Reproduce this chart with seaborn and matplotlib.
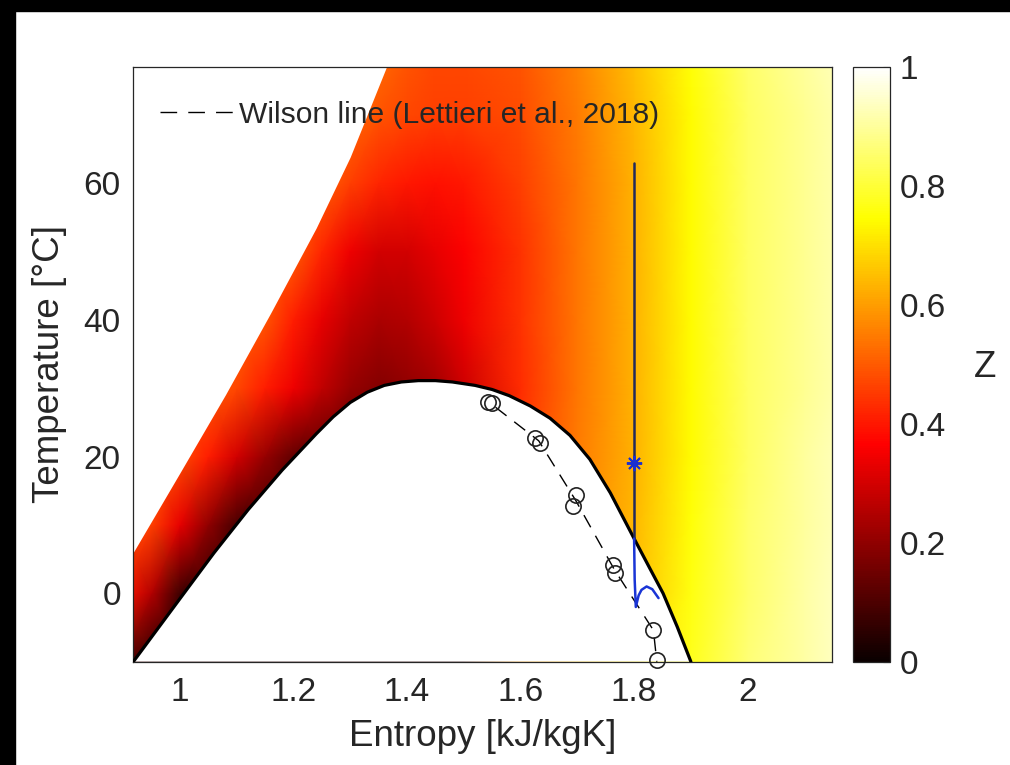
import numpy as np
import matplotlib
matplotlib.use("Agg")
import matplotlib.pyplot as plt
import seaborn as sns
from matplotlib.patches import Rectangle
from matplotlib.lines import Line2D

# Compressibility factor Z on a coarse (s, T) grid
s_grid = [0.90, 0.95, 1.00, 1.05, 1.10, 1.15, 1.20, 1.25, 1.30, 1.35,
          1.40, 1.45, 1.50, 1.60, 1.70, 1.80, 1.90, 2.00, 2.10, 2.16]
T_grid = [-10, 0, 10, 20, 30, 40, 50, 60, 70, 78]
z_rows = [
    [0.12, 0.05, 0.05, 0.05, 0.05, 0.05, 0.05, 0.05, 0.05, 0.05, 0.05, 0.05, 0.05, 0.60, 0.66, 0.71, 0.77, 0.86, 0.91, 0.94],
    [0.40, 0.25, 0.08, 0.06, 0.06, 0.06, 0.06, 0.06, 0.06, 0.06, 0.06, 0.06, 0.06, 0.46, 0.56, 0.65, 0.76, 0.85, 0.91, 0.94],
    [0.49, 0.46, 0.33, 0.20, 0.09, 0.08, 0.08, 0.08, 0.08, 0.08, 0.08, 0.08, 0.08, 0.46, 0.56, 0.64, 0.75, 0.85, 0.90, 0.93],
    [0.50, 0.50, 0.48, 0.41, 0.30, 0.21, 0.13, 0.12, 0.12, 0.12, 0.12, 0.12, 0.12, 0.45, 0.55, 0.63, 0.74, 0.84, 0.90, 0.93],
    [0.50, 0.50, 0.50, 0.50, 0.47, 0.41, 0.34, 0.27, 0.21, 0.18, 0.20, 0.23, 0.29, 0.43, 0.54, 0.63, 0.74, 0.84, 0.89, 0.92],
    [0.50, 0.50, 0.50, 0.50, 0.50, 0.49, 0.41, 0.33, 0.27, 0.24, 0.25, 0.29, 0.34, 0.44, 0.54, 0.63, 0.74, 0.84, 0.89, 0.92],
    [0.51, 0.51, 0.51, 0.51, 0.51, 0.51, 0.50, 0.42, 0.34, 0.30, 0.30, 0.33, 0.36, 0.44, 0.54, 0.63, 0.74, 0.84, 0.89, 0.92],
    [0.52, 0.52, 0.52, 0.52, 0.52, 0.52, 0.52, 0.51, 0.46, 0.42, 0.40, 0.39, 0.40, 0.46, 0.54, 0.63, 0.74, 0.84, 0.89, 0.92],
    [0.53, 0.53, 0.53, 0.53, 0.53, 0.53, 0.53, 0.53, 0.52, 0.49, 0.47, 0.46, 0.46, 0.48, 0.55, 0.64, 0.74, 0.84, 0.89, 0.92],
    [0.54, 0.54, 0.54, 0.54, 0.54, 0.54, 0.54, 0.54, 0.54, 0.52, 0.49, 0.47, 0.47, 0.49, 0.56, 0.65, 0.75, 0.85, 0.90, 0.93],
]

# saturation dome (liquid side -> critical point -> vapour side)
dome_s = [0.918, 1.000, 1.060, 1.120, 1.180, 1.240, 1.270, 1.300, 1.330,
          1.360, 1.390, 1.420, 1.450, 1.480, 1.520, 1.550, 1.580, 1.617,
          1.652, 1.687, 1.722, 1.758, 1.800, 1.828, 1.851, 1.876, 1.900]
dome_T = [-10.0, -0.8, 5.9, 12.2, 18.0, 23.3, 25.8, 27.9, 29.4,
          30.4, 30.9, 31.1, 31.1, 30.9, 30.4, 29.8, 28.9, 27.4,
          25.6, 23.1, 19.6, 14.7, 8.0, 3.6, 0.0, -4.9, -10.0]

# upper-left limit of the coloured field
bound_s = [0.900, 0.918, 1.000, 1.080, 1.160, 1.240, 1.300, 1.364, 1.380]
bound_T = [3.5, 6.0, 17.6, 29.0, 41.0, 53.4, 63.8, 77.0, 80.0]

# Wilson line data (Lettieri et al., 2018)
wil_s = [1.543, 1.549, 1.626, 1.634, 1.698, 1.693, 1.763, 1.766, 1.834, 1.840]
wil_T = [28.0, 27.8, 22.7, 22.0, 14.4, 12.8, 4.1, 2.9, -5.4, -9.8]
wline_s = [1.556, 1.632, 1.697, 1.765, 1.834, 1.840]
wline_T = [27.2, 22.3, 13.6, 3.5, -5.4, -10.0]

# expansion path
dry_s = [1.800, 1.800]
dry_T = [62.9, 8.0]
wet_s = [1.800, 1.801, 1.803, 1.808, 1.813, 1.822, 1.832, 1.843]
wet_T = [8.0, 2.0, -2.0, -0.3, 0.5, 1.0, 0.6, -0.7]
star_s = [1.800]
star_T = [19.0]

xticks = [1, 1.2, 1.4, 1.6, 1.8, 2]
xtick_labels = ["1", "1.2", "1.4", "1.6", "1.8", "2"]
yticks = [0, 20, 40, 60]
cticks = [0, 0.2, 0.4, 0.6, 0.8, 1]
ctick_labels = ["0", "0.2", "0.4", "0.6", "0.8", "1"]

sns.set_theme(style="white")
plt.rcParams["font.family"] = ["Liberation Sans", "DejaVu Sans"]
txt = "#262626"

fig = plt.figure(figsize=(10.1, 7.65), dpi=100)
fig.patch.set_facecolor("white")
ax = fig.add_axes([133.3 / 1010, 1 - 661.7 / 765, 698.4 / 1010, 595 / 765])
cax = fig.add_axes([853.3 / 1010, 1 - 661.7 / 765, 36.7 / 1010, 595 / 765])

S, T = np.meshgrid(s_grid, T_grid)
mesh = ax.pcolormesh(S, T, np.array(z_rows), cmap="hot", vmin=0, vmax=1,
                     shading="gouraud", zorder=1)

# blank out the two-phase dome and the region outside the data
ax.fill(dome_s, dome_T, color="white", zorder=2, lw=0)
ax.fill_between(bound_s, bound_T, 100, color="white", zorder=2, lw=0)

sns.lineplot(x=dome_s, y=dome_T, sort=False, estimator=None, color="black",
             lw=2.3, ax=ax, zorder=4)

ax.plot(wline_s, wline_T, color="black", lw=1.0, ls=(0, (10, 7)), zorder=5)
ax.plot(wil_s, wil_T, ls="none", marker="o", ms=11, mfc="none", mec="#222222",
        mew=1.2, zorder=6, clip_on=False)

ax.plot(dry_s, dry_T, color="#222a5c", lw=1.8, zorder=5)
ax.plot(wet_s, wet_T, color="#1a35d6", lw=1.8, zorder=5)
ax.plot(star_s, star_T, ls="none", marker=(8, 2, 0), ms=11, mew=1.4,
        color="#1a2fd0", zorder=7)

ax.set_xlim(0.918, 2.148)
ax.set_ylim(-10, 77)
ax.set_xticks(xticks)
ax.set_xticklabels(xtick_labels)
ax.set_yticks(yticks)
ax.tick_params(direction="in", length=7, width=0.8, top=True, right=True,
               labelsize=24, colors=txt)
ax.tick_params(axis="x", pad=11)
ax.tick_params(axis="y", pad=9)
for sp in ax.spines.values():
    sp.set_color(txt)
    sp.set_linewidth(0.9)
ax.set_xlabel("Entropy [kJ/kgK]", fontsize=26.5, color=txt, labelpad=8)
ax.set_ylabel("Temperature [°C]", fontsize=26.5, color=txt, labelpad=12)

# three full dashes in the legend key
handle = Line2D([], [], color="black", lw=1.0, ls=(0, (12, 8)))
ax.legend(handles=[handle], labels=["Wilson line (Lettieri et al., 2018)"],
          loc="upper left", bbox_to_anchor=(0, 0.988), frameon=False,
          fontsize=21.6, handlelength=2.41, handletextpad=0.2, labelcolor=txt)

cb = fig.colorbar(mesh, cax=cax)
cb.outline.set_linewidth(0.9)
cb.outline.set_edgecolor(txt)
cb.set_ticks(cticks)
cb.set_ticklabels(ctick_labels)
cax.tick_params(direction="in", length=5, width=0.8, labelsize=24,
                colors=txt, pad=7)
cax.set_ylabel("Z", rotation=0, fontsize=26.5, color=txt, va="center", ha="center")
cax.yaxis.set_label_coords(3.59, 0.494)

# black screenshot borders
fig.patches.append(Rectangle((0, 1 - 11 / 765), 1, 11 / 765,
                             transform=fig.transFigure, color="black", zorder=10))
fig.patches.append(Rectangle((0, 0), 15 / 1010, 1,
                             transform=fig.transFigure, color="black", zorder=10))

fig.savefig("out.png", dpi=100)
